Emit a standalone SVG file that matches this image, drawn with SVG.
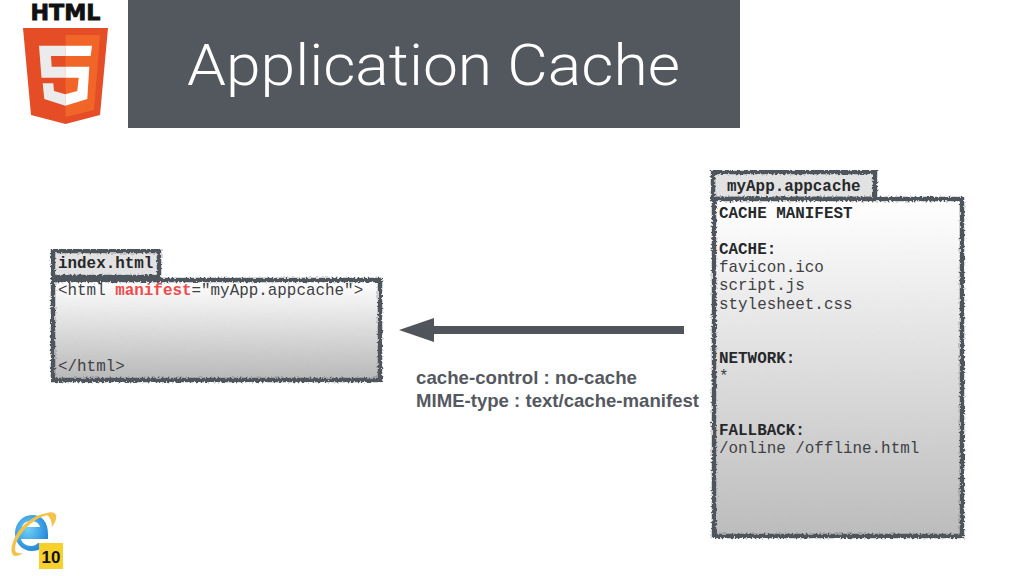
<svg xmlns="http://www.w3.org/2000/svg" width="1024" height="576" viewBox="0 0 1024 576">
<style>
.mono{font-family:"Liberation Mono","Courier New",monospace;font-size:15.9px;fill:#3f4145}
.b{font-weight:bold;fill:#26282b}
.frame{stroke:#50555c;stroke-width:4.5;filter:url(#rough)}
.cap{font-family:"Liberation Sans",Arial,sans-serif;font-weight:bold;font-size:18.6px;fill:#55595f}
</style>
<defs>
<linearGradient id="body" x1="0" y1="0" x2="0" y2="1"><stop offset="0" stop-color="#ffffff"/><stop offset="1" stop-color="#b8b8b8"/></linearGradient>
<linearGradient id="bodyTall" x1="0" y1="0" x2="0" y2="1"><stop offset="0" stop-color="#ffffff"/><stop offset="1" stop-color="#bcbcbc"/></linearGradient>
<radialGradient id="ieBlue" cx="0.4" cy="0.4" r="0.7"><stop offset="0" stop-color="#6fd0f5"/><stop offset="1" stop-color="#1b7fd6"/></radialGradient>
<filter id="rough" x="-5%" y="-5%" width="110%" height="110%"><feTurbulence type="fractalNoise" baseFrequency="0.5" numOctaves="3" seed="4"/><feDisplacementMap in="SourceGraphic" scale="5" xChannelSelector="R" yChannelSelector="G"/></filter>
</defs>
<rect width="1024" height="576" fill="#ffffff"/>

<g id="html5-logo">
<text x="30.5" y="20" font-family="'DejaVu Sans',sans-serif" font-weight="bold" font-size="21.5" textLength="70" lengthAdjust="spacingAndGlyphs" fill="#111" stroke="#111" stroke-width="0.8">HTML</text>
<polygon points="23,28 108,28 100,115 65.5,124 31,115" fill="#e44d26"/>
<polygon points="65.5,35 100,35 94,110 65.5,117" fill="#f16529"/>
<polygon points="39,45.7 65.3,45.7 65.3,56 51,56 51.7,66.7 65.3,66.7 65.3,77.7 41.5,77.7" fill="#ebebeb"/>
<polygon points="42.7,83.3 53.3,83.3 54,91 65.3,94.3 65.3,105.7 44.3,99" fill="#ebebeb"/>
<polygon points="65.3,45.7 92,45.7 90.7,56 65.3,56" fill="#fff"/>
<polygon points="65.3,66.7 89.3,66.7 87.3,99 65.3,105.7 65.3,94.3 77.3,91 78.7,77.7 65.3,77.7" fill="#fff"/>
</g>

<g id="title">
<rect x="128" y="0" width="612" height="128" fill="#53575e"/>
<text x="187" y="85" font-family="Roboto,'Liberation Sans',sans-serif" font-weight="300" font-size="58" textLength="493" lengthAdjust="spacingAndGlyphs" fill="#ffffff">Application Cache</text>
</g>

<g id="index-html">
<rect class="frame" x="53" y="251" width="106" height="26" fill="#e2e2e2"/>
<rect class="frame" x="53" y="280" width="327" height="100" fill="url(#body)"/>
<text class="mono b" x="58" y="268">index.html</text>
<text class="mono" x="58" y="295">&lt;html <tspan class="b" style="fill:#f04a4a">manifest</tspan>="myApp.appcache"&gt;</text>
<text class="mono" x="58" y="371">&lt;/html&gt;</text>
</g>

<g id="myapp-appcache">
<rect class="frame" x="713" y="172" width="162" height="27" fill="#e2e2e2"/>
<rect class="frame" x="714" y="199" width="248" height="337" fill="url(#bodyTall)"/>
<text class="mono b" x="727" y="191">myApp.appcache</text>
<text class="mono b" x="719" y="218">CACHE MANIFEST</text>
<text class="mono b" x="719" y="254">CACHE:</text>
<text class="mono" x="719" y="272">favicon.ico</text>
<text class="mono" x="719" y="290">script.js</text>
<text class="mono" x="719" y="309">stylesheet.css</text>
<text class="mono b" x="719" y="363">NETWORK:</text>
<text class="mono" x="719" y="381">*</text>
<text class="mono b" x="719" y="435">FALLBACK:</text>
<text class="mono" x="719" y="453">/online /offline.html</text>
</g>

<g id="connectors">
<polygon points="399,330 434,318 434,326 684,326 684,334 434,334 434,342" fill="#50555c"/>
</g>

<g id="headers-note">
<text class="cap" x="416" y="384" textLength="221" lengthAdjust="spacingAndGlyphs">cache-control : no-cache</text>
<text class="cap" x="416" y="407" textLength="283" lengthAdjust="spacingAndGlyphs">MIME-type : text/cache-manifest</text>
</g>

<g id="ie10-logo">
<path d="M21 534 H48 C48 522 42 515 32 515 C22 515 15 524 15 533 C15 543 22 551 32 551 C38 551 44 548 47 543 H38 C36 545 34 546 31 546 C26 546 22 543 21 539 H48 V534 Z M22 527 C23 523 27 521 31 521 C35 521 39 523 40 527 Z" fill="url(#ieBlue)" fill-rule="evenodd"/>
<path d="M52 514 C46 511 32 516 22 527 C13 537 9 550 13 555 C15 557 19 556 23 553 C18 554 15 553 15 549 C15 541 23 529 33 522 C41 516 48 514 52 516 Z" fill="#f3c24a"/>
<path d="M45 514 C50 511 55 512 56 515 C57 518 55 523 52 527 C52 521 50 516 45 514 Z" fill="#f3c24a"/>
<rect x="39" y="543" width="24" height="26" fill="#f7d02c"/>
<text x="51" y="562.500" text-anchor="middle" font-family="'Liberation Sans',Arial,sans-serif" font-weight="bold" font-size="17" fill="#111">10</text>
</g>
</svg>
